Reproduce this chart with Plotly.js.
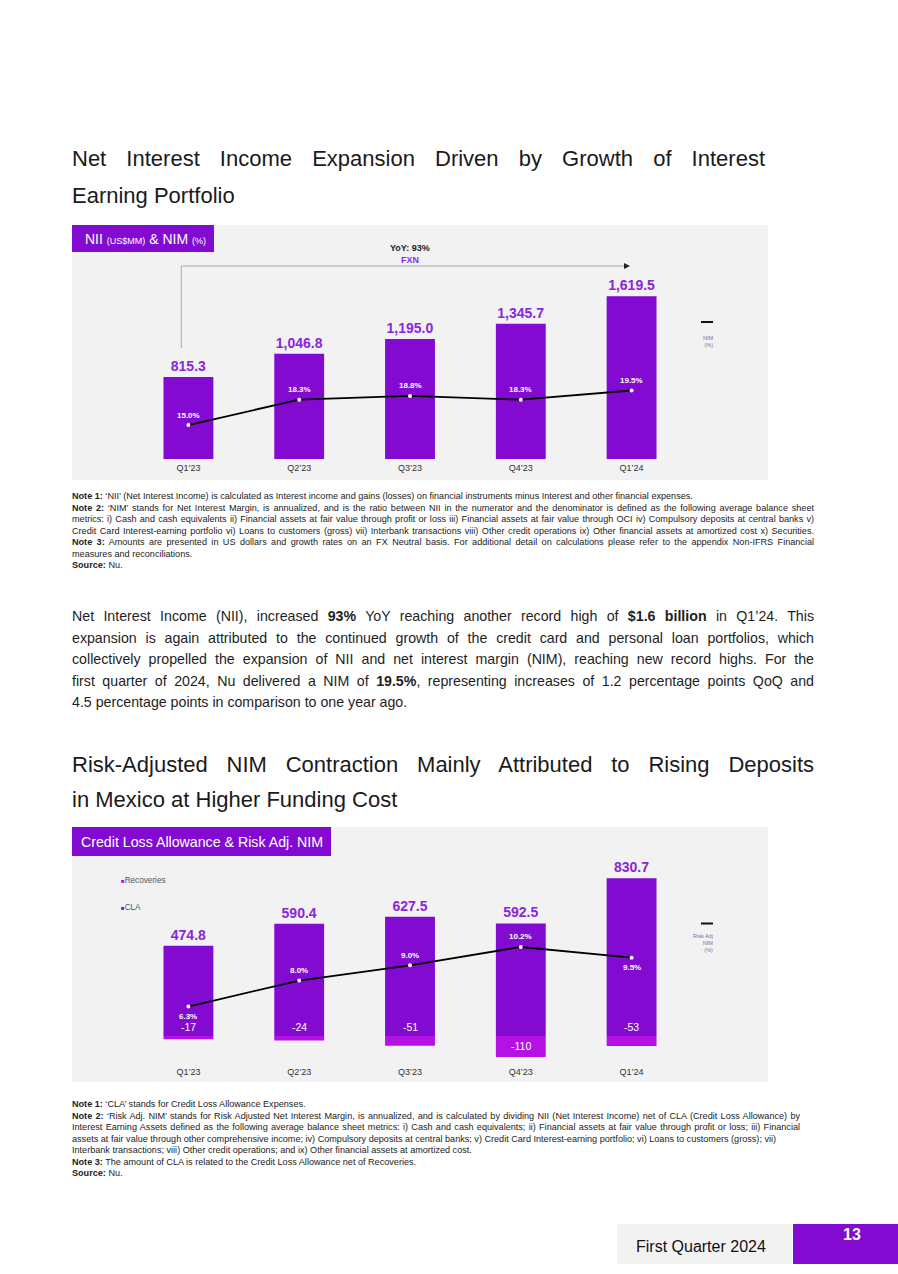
<!DOCTYPE html>
<html>
<head>
<meta charset="utf-8">
<script src="https://cdn.plot.ly/plotly-3.0.1.min.js"></script>
<style>
html,body{margin:0;padding:0;background:#fff;}
body{width:898px;height:1274px;position:relative;overflow:hidden;font-family:"Liberation Sans",Arial,sans-serif;color:#1e1e1e;}
.abs{position:absolute;}
.ln{display:block;white-space:nowrap;overflow:visible;}
.j{text-align:justify;text-align-last:justify;}
.title{font-size:22px;color:#1a1a1a;}
.body{font-size:14.2px;color:#1e1e1e;}
.note{font-size:9.1px;color:#222;}
</style>
</head>
<body>

<div class="abs title" style="left:72px;top:140px;width:693px;line-height:37px;">
  <span class="ln j">Net Interest Income Expansion Driven by Growth of Interest</span>
  <span class="ln">Earning Portfolio</span>
</div>

<div id="chart1" class="abs" style="left:72px;top:225px;width:696px;height:255px;"></div>

<div class="abs note" style="left:72px;top:491px;width:742px;line-height:11.5px;">
  <span class="ln"><b>Note 1:</b> ‘NII’ (Net Interest Income) is calculated as Interest income and gains (losses) on financial instruments minus Interest and other financial expenses.</span>
  <span class="ln j"><b>Note 2:</b> ‘NIM’ stands for Net Interest Margin, is annualized, and is the ratio between NII in the numerator and the denominator is defined as the following average balance sheet</span>
  <span class="ln j">metrics: i) Cash and cash equivalents ii) Financial assets at fair value through profit or loss iii) Financial assets at fair value through OCI iv) Compulsory deposits at central banks v)</span>
  <span class="ln j">Credit Card Interest-earning portfolio vi) Loans to customers (gross) vii) Interbank transactions viii) Other credit operations ix) Other financial assets at amortized cost x) Securities.</span>
  <span class="ln j"><b>Note 3:</b> Amounts are presented in US dollars and growth rates on an FX Neutral basis. For additional detail on calculations please refer to the appendix Non-IFRS Financial</span>
  <span class="ln">measures and reconciliations.</span>
  <span class="ln"><b>Source:</b> Nu.</span>
</div>

<div class="abs body" style="left:72px;top:606px;width:742px;line-height:21.5px;">
  <span class="ln j">Net Interest Income (NII), increased <b>93%</b> YoY reaching another record high of <b>$1.6 billion</b> in Q1’24. This</span>
  <span class="ln j">expansion is again attributed to the continued growth of the credit card and personal loan portfolios, which</span>
  <span class="ln j">collectively propelled the expansion of NII and net interest margin (NIM), reaching new record highs. For the</span>
  <span class="ln j">first quarter of 2024, Nu delivered a NIM of <b>19.5%</b>, representing increases of 1.2 percentage points QoQ and</span>
  <span class="ln">4.5 percentage points in comparison to one year ago.</span>
</div>

<div class="abs title" style="left:72px;top:747px;width:742px;line-height:35px;">
  <span class="ln j">Risk-Adjusted NIM Contraction Mainly Attributed to Rising Deposits</span>
  <span class="ln">in Mexico at Higher Funding Cost</span>
</div>

<div id="chart2" class="abs" style="left:72px;top:827px;width:696px;height:255px;"></div>

<div class="abs note" style="left:72px;top:1099px;width:728px;line-height:11.5px;">
  <span class="ln"><b>Note 1:</b> ‘CLA’ stands for Credit Loss Allowance Expenses.</span>
  <span class="ln j"><b>Note 2:</b> ‘Risk Adj. NIM’ stands for Risk Adjusted Net Interest Margin, is annualized, and is calculated by dividing NII (Net Interest Income) net of CLA (Credit Loss Allowance) by</span>
  <span class="ln j">Interest Earning Assets defined as the following average balance sheet metrics: i) Cash and cash equivalents; ii) Financial assets at fair value through profit or loss; iii) Financial</span>
  <span class="ln">assets at fair value through other comprehensive income; iv) Compulsory deposits at central banks; v) Credit Card Interest-earning portfolio; vi) Loans to customers (gross); vii)</span>
  <span class="ln">Interbank transactions; viii) Other credit operations; and ix) Other financial assets at amortized cost.</span>
  <span class="ln"><b>Note 3:</b> The amount of CLA is related to the Credit Loss Allowance net of Recoveries.</span>
  <span class="ln"><b>Source:</b> Nu.</span>
</div>

<div class="abs" style="left:617px;top:1224px;width:175px;height:40px;background:#f2f2f2;"></div>
<div class="abs" style="left:636px;top:1236px;font-size:16px;line-height:22px;color:#111;">First Quarter 2024</div>
<div class="abs" style="left:793px;top:1224px;width:105px;height:40px;background:#820AD1;"></div>
<div class="abs" style="left:793px;top:1226px;width:118px;text-align:center;font-size:16px;font-weight:bold;line-height:18px;color:#fff;">13</div>

<script>
// ---------------- data ----------------
const quarters = ["Q1’23", "Q2’23", "Q3’23", "Q4’23", "Q1’24"];
const nii = [815.3, 1046.8, 1195.0, 1345.7, 1619.5];
const nim = [15.0, 18.3, 18.8, 18.3, 19.5];
const cla = [474.8, 590.4, 627.5, 592.5, 830.7];
const recoveries = [-17, -24, -51, -110, -53];
const riskAdjNim = [6.3, 8.0, 9.0, 10.2, 9.5];

// ---------------- styles ----------------
const PURPLE = "#820AD1";
const MAGENTA = "#b412e4";
const LABEL_PURPLE = "#8a25dc";
const PANEL = "#f2f2f2";
const FONT = "Liberation Sans, Arial, sans-serif";

function helpers(c) {
  const pw = c.W - c.l - c.r, ph = c.H - c.t - c.b;
  return {
    px: x => (x - c.left - c.l) / pw,
    py: y => 1 - (y - c.top - c.t) / ph
  };
}

const pct = v => v.toFixed(1) + "%";

// ================= Chart 1 =================
const C1 = {left: 72, top: 225, W: 696, H: 255, l: 61, r: 81, t: 0, b: 21};
const h1 = helpers(C1);

const t1 = [
  {
    type: "bar", x: quarters, y: nii, width: 0.45,
    marker: {color: PURPLE},
    texttemplate: "<b>%{y:,.1f}</b>", textposition: "outside",
    textfont: {family: FONT, size: 14, color: LABEL_PURPLE},
    cliponaxis: false, hoverinfo: "skip"
  },
  {
    type: "scatter", mode: "lines+markers", x: quarters, y: nim, yaxis: "y2",
    line: {color: "#000", width: 1.8},
    marker: {color: "#fff", size: 4},
    cliponaxis: false, hoverinfo: "skip"
  }
];

const ann1 = nim.map((v, i) => ({
  x: quarters[i], y: v, xref: "x", yref: "y2", yshift: 10, showarrow: false,
  xanchor: "center", yanchor: "middle",
  text: "<b>" + pct(v) + "</b>",
  font: {family: FONT, size: 8, color: "#fff"}
}));
ann1.push(
  {xref: "paper", yref: "paper", x: h1.px(83), y: h1.py(238.5), xanchor: "left", yanchor: "middle", showarrow: false,
   text: "NII <span style='font-size:9px'>(US$MM)</span> & NIM <span style='font-size:9px'>(%)</span>",
   font: {family: FONT, size: 14, color: "#fff"}},
  {xref: "paper", yref: "paper", x: h1.px(410), y: h1.py(248.5), xanchor: "center", yanchor: "middle", showarrow: false,
   text: "<b>YoY: 93%</b>", font: {family: FONT, size: 9, color: "#222"}},
  {xref: "paper", yref: "paper", x: h1.px(410), y: h1.py(260), xanchor: "center", yanchor: "middle", showarrow: false,
   text: "<b>FXN</b>", font: {family: FONT, size: 9, color: "#8a2be2"}},
  {xref: "paper", yref: "paper", x: h1.px(708), y: h1.py(341), xanchor: "center", yanchor: "middle", showarrow: false,
   text: "NIM<br> (%)", font: {family: FONT, size: 5.5, color: "#7d7090"}}
);

const shapes1 = [
  {type: "rect", xref: "paper", yref: "paper", x0: h1.px(72), x1: h1.px(214), y0: h1.py(252), y1: h1.py(225),
   fillcolor: PURPLE, line: {width: 0}},
  {type: "line", xref: "paper", yref: "paper", x0: h1.px(181.3), x1: h1.px(181.3), y0: h1.py(348), y1: h1.py(266),
   line: {color: "#a8a8a8", width: 1}},
  {type: "line", xref: "paper", yref: "paper", x0: h1.px(181.3), x1: h1.px(625), y0: h1.py(266), y1: h1.py(266),
   line: {color: "#a8a8a8", width: 1}},
  {type: "path", xref: "paper", yref: "paper",
   path: "M " + h1.px(630) + "," + h1.py(266) + " L " + h1.px(624) + "," + h1.py(263) + " L " + h1.px(624) + "," + h1.py(269) + " Z",
   fillcolor: "#222", line: {width: 0}},
  {type: "line", xref: "paper", yref: "paper", x0: h1.px(701), x1: h1.px(713), y0: h1.py(322), y1: h1.py(322),
   line: {color: "#111", width: 2}}
];

const layout1 = {
  width: C1.W, height: C1.H,
  margin: {l: C1.l, r: C1.r, t: C1.t, b: C1.b, pad: 0},
  paper_bgcolor: PANEL, plot_bgcolor: "rgba(0,0,0,0)",
  showlegend: false,
  font: {family: FONT},
  xaxis: {type: "category", range: [-0.5, 4.5], showgrid: false, zeroline: false, showline: false, ticks: "",
          ticklabelstandoff: 2, tickfont: {size: 9, color: "#333"}, fixedrange: true},
  yaxis: {range: [0, 2328], visible: false, fixedrange: true},
  yaxis2: {range: [10.57, 41.08], overlaying: "y", visible: false, fixedrange: true},
  annotations: ann1,
  shapes: shapes1
};

Plotly.newPlot("chart1", t1, layout1, {displayModeBar: false, staticPlot: true});

// ================= Chart 2 =================
const C2 = {left: 72, top: 827, W: 696, H: 255, l: 61, r: 81, t: 0, b: 19};
const h2 = helpers(C2);

const t2 = [
  {
    type: "bar", name: "CLA", x: quarters, y: cla, width: 0.45,
    marker: {color: PURPLE},
    texttemplate: "<b>%{y:.1f}</b>", textposition: "outside",
    textfont: {family: FONT, size: 14, color: LABEL_PURPLE},
    cliponaxis: false, hoverinfo: "skip"
  },
  {
    type: "bar", name: "Recoveries", x: quarters, y: recoveries, width: 0.45,
    marker: {color: MAGENTA}, textposition: "none", hoverinfo: "skip"
  },
  {
    type: "scatter", mode: "lines+markers", x: quarters, y: riskAdjNim, yaxis: "y2",
    line: {color: "#000", width: 1.8},
    marker: {color: "#fff", size: 4},
    cliponaxis: false, hoverinfo: "skip"
  }
];

const side2 = [-1, 1, 1, 1, -1];
const ann2 = riskAdjNim.map((v, i) => ({
  x: quarters[i], y: v, xref: "x", yref: "y2", yshift: side2[i] * 10, showarrow: false,
  xanchor: "center", yanchor: "middle",
  text: "<b>" + pct(v) + "</b>",
  font: {family: FONT, size: 8, color: "#fff"}
}));
recoveries.forEach((v, i) => {
  const inside = Math.abs(v) > 80;
  ann2.push({
    x: quarters[i], y: inside ? v / 2 : 0, xref: "x", yref: "y", yshift: inside ? 0 : 9, showarrow: false,
    xanchor: "center", yanchor: "middle",
    text: String(v), font: {family: FONT, size: 10.5, color: "#fff"}
  });
});
ann2.push(
  {xref: "paper", yref: "paper", x: h2.px(79), y: h2.py(842), xanchor: "left", yanchor: "middle", showarrow: false,
   text: "Credit Loss Allowance & Risk Adj. NIM",
   font: {family: FONT, size: 14.2, color: "#fff"}},
  {xref: "paper", yref: "paper", x: h2.px(119), y: h2.py(880), xanchor: "left", yanchor: "middle", showarrow: false,
   text: "<span style='color:" + MAGENTA + ";font-size:6px'>■</span>Recoveries",
   font: {family: FONT, size: 8.2, color: "#555"}},
  {xref: "paper", yref: "paper", x: h2.px(119), y: h2.py(907), xanchor: "left", yanchor: "middle", showarrow: false,
   text: "<span style='color:" + PURPLE + ";font-size:6px'>■</span>CLA",
   font: {family: FONT, size: 8.2, color: "#555"}},
  {xref: "paper", yref: "paper", x: h2.px(715), y: h2.py(943), xanchor: "right", yanchor: "middle", showarrow: false, align: "right",
   text: "Risk Adj<br>NIM<br>(%)", font: {family: FONT, size: 5.5, color: "#7d7090"}}
);

const shapes2 = [
  {type: "rect", xref: "paper", yref: "paper", x0: h2.px(72), x1: h2.px(331), y0: h2.py(856), y1: h2.py(827),
   fillcolor: PURPLE, line: {width: 0}},
  {type: "line", xref: "paper", yref: "paper", x0: h2.px(701), x1: h2.px(713), y0: h2.py(923.5), y1: h2.py(923.5),
   line: {color: "#111", width: 2}}
];

const layout2 = {
  width: C2.W, height: C2.H,
  margin: {l: C2.l, r: C2.r, t: C2.t, b: C2.b, pad: 0},
  paper_bgcolor: PANEL, plot_bgcolor: "rgba(0,0,0,0)",
  showlegend: false, barmode: "relative",
  font: {family: FONT},
  xaxis: {type: "category", range: [-0.5, 4.5], showgrid: false, zeroline: false, showline: false, ticks: "",
          ticklabelstandoff: 2, tickfont: {size: 9, color: "#333"}, fixedrange: true},
  yaxis: {range: [-142.1, 1100], visible: false, zeroline: false, fixedrange: true},
  yaxis2: {range: [2.6, 18.06], overlaying: "y", visible: false, fixedrange: true},
  annotations: ann2,
  shapes: shapes2
};

Plotly.newPlot("chart2", t2, layout2, {displayModeBar: false, staticPlot: true});
</script>
</body>
</html>
